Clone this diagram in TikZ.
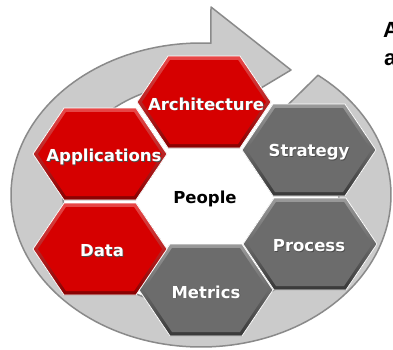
\documentclass[tikz,border=0pt]{standalone}
\usepackage{fontspec}
\setmainfont{DejaVu Sans}
\newfontfamily\arialfont{Liberation Sans}
\definecolor{hexred}{HTML}{D60000}
\definecolor{hexredlt}{HTML}{E84848}
\definecolor{hexreddk}{HTML}{880000}
\definecolor{hexgray}{HTML}{6C6C6C}
\definecolor{hexgraylt}{HTML}{9A9A9A}
\definecolor{hexgraydk}{HTML}{383838}
\definecolor{ringfill}{HTML}{CBCBCB}
\definecolor{ringedge}{HTML}{8A8A8A}
\newcommand{\myhex}[5]{%
  \fill[top color=#4,bottom color=#5,draw=white,line width=0.8pt]
    (#1-67,#2) -- (#1-36,#2-46) -- (#1+36,#2-46) -- (#1+67,#2)
    -- (#1+36,#2+46) -- (#1-36,#2+46) -- cycle;
  \fill[#3] (#1-62,#2) -- (#1-34,#2-42) -- (#1+34,#2-42) -- (#1+62,#2)
    -- (#1+34,#2+42) -- (#1-34,#2+42) -- cycle;}
\tikzset{
  lbl/.style={font=\fontsize{16.5}{19}\selectfont\bfseries, text=white, inner sep=0pt},
  lblshadow/.style={font=\fontsize{16.5}{19}\selectfont\bfseries, text=black!70, inner sep=0pt},
  side/.style={font=\arialfont\fontsize{22}{26}\selectfont\bfseries, text=black, inner sep=0pt, anchor=base west}
}
\newcommand{\hexlabel}[4]{%
  \node[lblshadow] at (#1+0.8,#2+0.8) {#4};
  \node[lbl] (#3) at (#1,#2) {#4};}
\begin{document}
\begin{tikzpicture}[x=1pt,y=-1pt]
\useasboundingbox (0,0) rectangle (393,349);
\fill[white] (0,0) rectangle (393,349);
% circular arrow
\filldraw[fill=ringfill, draw=ringedge, line width=1.5pt, line join=round]
  plot[domain=52:-273,samples=160] ({201+190*cos(\x)},{195-152*sin(\x)})
  -- (211,7) -- (291,70) -- (211,118)
  -- plot[domain=-274:52,samples=160] ({201+138*cos(\x)},{195-112*sin(\x)})
  -- cycle;
% hexagons
\myhex{206}{290}{hexgray}{hexgraylt}{hexgraydk}
\myhex{310}{244}{hexgray}{hexgraylt}{hexgraydk}
\myhex{309}{150}{hexgray}{hexgraylt}{hexgraydk}
\myhex{100}{249}{hexred}{hexredlt}{hexreddk}
\myhex{100}{154}{hexred}{hexredlt}{hexreddk}
\myhex{204}{102}{hexred}{hexredlt}{hexreddk}
% labels
\hexlabel{206}{104}{arch}{Architecture}
\hexlabel{104}{157}{apps}{Applications}
\hexlabel{309}{152}{strat}{Strategy}
\hexlabel{102}{251}{data}{Data}
\hexlabel{309}{246}{proc}{Process}
\hexlabel{206}{292}{metr}{Metrics}
\node[font=\fontsize{16.5}{19}\selectfont\bfseries, text=black, inner sep=0pt] (people) at (205,199) {People};
\node[side] (sideA) at (383,37) {A};
\node[side] (sidea) at (384,65) {a};
\end{tikzpicture}
\end{document}
